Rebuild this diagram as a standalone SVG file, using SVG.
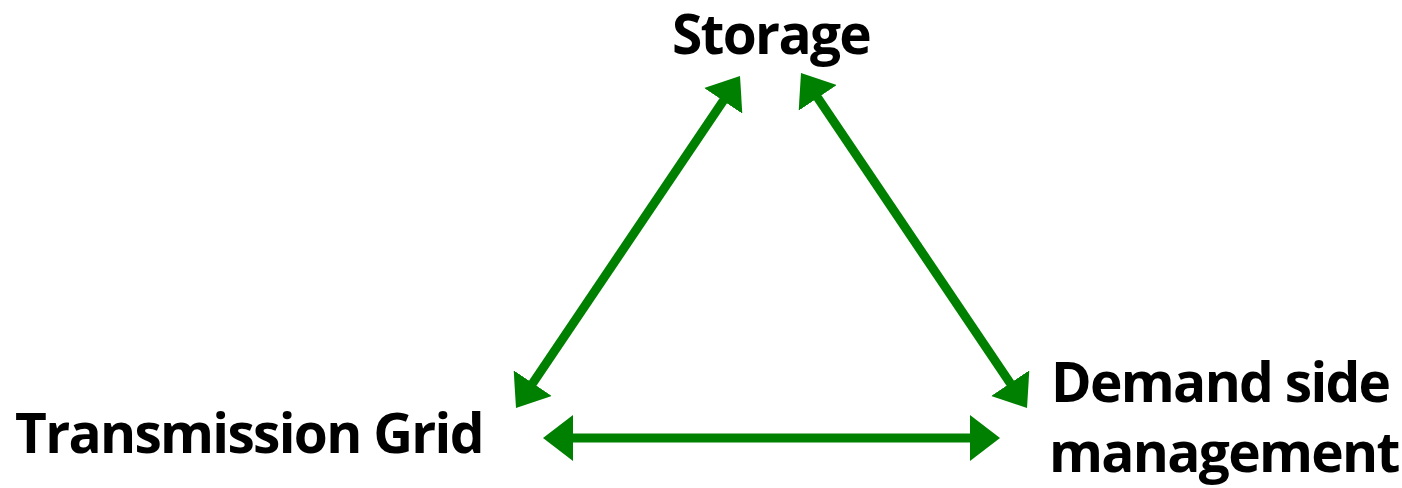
<svg xmlns="http://www.w3.org/2000/svg" width="1402" height="488" viewBox="0 0 1402 488">
  <style>
    .lbl { font-family: "Open Sans", "Liberation Sans", sans-serif; font-weight: 700; font-size: 55px; letter-spacing: -1.7px; fill: #000; }
    .conn { stroke: #008000; stroke-width: 9; fill: none; marker-start: url(#ah); marker-end: url(#ah); }
  </style>
  <defs>
    <marker id="ah" markerUnits="userSpaceOnUse" viewBox="0 0 30 46" markerWidth="30" markerHeight="46" refX="1" refY="23" orient="auto-start-reverse">
      <path d="M0,0 L30,23 L0,46 Z" fill="#008000"/>
    </marker>
  </defs>
  <rect width="1402" height="488" fill="#fff"/>
  <g id="connectors">
    <line class="conn" x1="723.8" y1="100" x2="532.2" y2="384"/>
    <line class="conn" x1="817.2" y1="97" x2="1010.8" y2="384"/>
    <line class="conn" x1="572" y1="438" x2="971" y2="438"/>
  </g>
  <g id="storage">
    <text class="lbl" x="672" y="54">Storage</text>
  </g>
  <g id="transmission-grid">
    <text class="lbl" x="15" y="453">Transmission Grid</text>
  </g>
  <g id="demand-side-management">
    <text class="lbl" x="1051" y="402">Demand side</text>
    <text class="lbl" x="1049" y="472">management</text>
  </g>
</svg>
